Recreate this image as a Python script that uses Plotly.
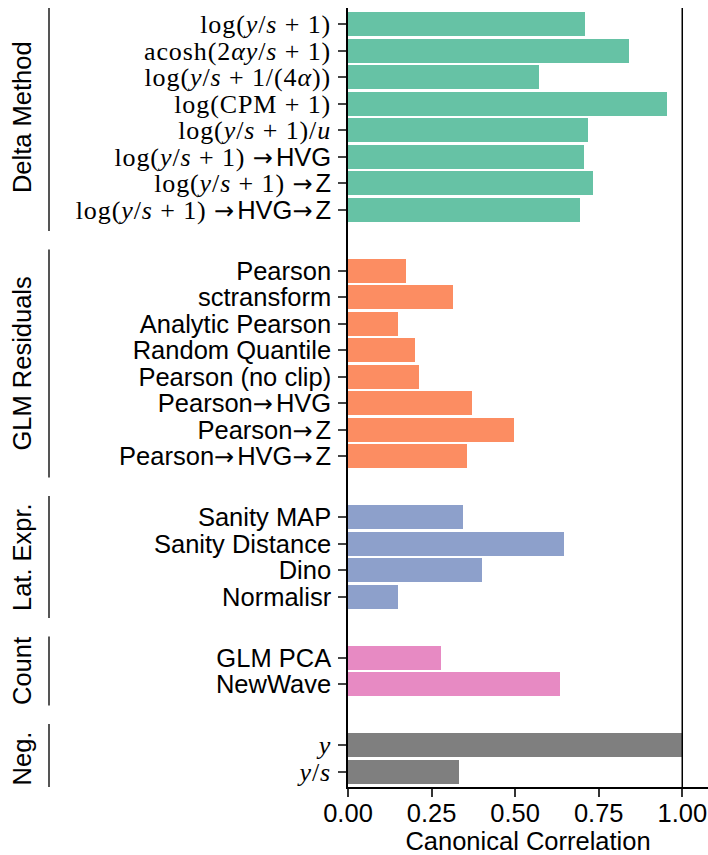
import plotly.graph_objects as go

# ---- data -------------------------------------------------------------
SERIF = '<span style="font-family:Liberation Serif;font-size:26px;letter-spacing:0.9px">{}</span>'
ARROW = '<span style="font-family:DejaVu Sans;font-size:24px;letter-spacing:3px">→</span>'

delta_labels = [
    SERIF.format("log(<i>y</i>/<i>s</i> + 1)"),
    SERIF.format("acosh(2<i>αy</i>/<i>s</i> + 1)"),
    SERIF.format("log(<i>y</i>/<i>s</i> + 1/(4<i>α</i>))"),
    SERIF.format("log(CPM + 1)"),
    SERIF.format("log(<i>y</i>/<i>s</i> + 1)/<i>u</i>"),
    SERIF.format("log(<i>y</i>/<i>s</i> + 1) ") + ARROW + "HVG",
    SERIF.format("log(<i>y</i>/<i>s</i> + 1) ") + ARROW + "Z",
    SERIF.format("log(<i>y</i>/<i>s</i> + 1) ") + ARROW + "HVG" + ARROW + "Z",
]
delta_vals = [0.709, 0.840, 0.571, 0.954, 0.718, 0.706, 0.733, 0.694]

glm_labels = [
    "Pearson", "sctransform", "Analytic Pearson", "Random Quantile",
    "Pearson (no clip)", "Pearson" + ARROW + "HVG", "Pearson" + ARROW + "Z",
    "Pearson" + ARROW + "HVG" + ARROW + "Z",
]
glm_vals = [0.173, 0.313, 0.149, 0.200, 0.212, 0.370, 0.496, 0.355]

lat_labels = ["Sanity MAP", "Sanity Distance", "Dino", "Normalisr"]
lat_vals = [0.343, 0.646, 0.400, 0.149]

count_labels = ["GLM PCA", "NewWave"]
count_vals = [0.277, 0.634]

neg_labels = [SERIF.format("<i>y</i>"), SERIF.format("<i>y</i>/<i>s</i>")]
neg_vals = [1.000, 0.333]

group_names = ["Delta Method", "GLM Residuals", "Lat. Expr.", "Count", "Neg."]
group_colors = ["#66c2a5", "#fc8d62", "#8da0cb", "#e78ac3", "#7f7f7f"]

x_ticks = [0.0, 0.25, 0.5, 0.75, 1.0]
x_ticktext = ["0.00", "0.25", "0.50", "0.75", "1.00"]

groups = [
    (delta_labels, delta_vals),
    (glm_labels, glm_vals),
    (lat_labels, lat_vals),
    (count_labels, count_vals),
    (neg_labels, neg_vals),
]

# ---- layout of rows: one unit per bar, wider gap between groups -------
GROUP_GAP = 2.3
fig = go.Figure()
tickvals, ticktext = [], []
spans = []
pos = 0.0
for (labels, vals), color in zip(groups, group_colors):
    ys = []
    for lab in labels:
        ys.append(pos)
        tickvals.append(pos)
        ticktext.append(lab)
        pos += 1.0
    pos += GROUP_GAP - 1.0
    spans.append((ys[0], ys[-1]))
    fig.add_trace(go.Bar(
        x=vals, y=ys, orientation="h", width=0.9,
        marker=dict(color=color, line=dict(width=0)),
        showlegend=False, hoverinfo="x",
    ))

last = tickvals[-1]

FONT = "Liberation Sans, Arial, sans-serif"
FS = 25.5

# reference line at perfect correlation
fig.add_shape(type="line", xref="x", yref="paper", x0=1, x1=1, y0=0, y1=1,
              line=dict(color="black", width=1.5), layer="above")

# group brackets and labels in the left margin
for (y0, y1), name in zip(spans, group_names):
    fig.add_shape(type="line", xref="paper", yref="y",
                  x0=-299 / 360, x1=-299 / 360, y0=y0 - 0.8, y1=y1 + 0.8,
                  line=dict(color="#555555", width=2))
    fig.add_annotation(text=name, xref="paper", yref="y", x=0, y=(y0 + y1) / 2,
                       xshift=-326, textangle=-90, showarrow=False,
                       xanchor="center", yanchor="middle",
                       font=dict(family=FONT, size=FS, color="black"))

fig.update_layout(
    width=708, height=855,
    margin=dict(l=348, r=0, t=8, b=68),
    paper_bgcolor="white", plot_bgcolor="white",
    font=dict(family=FONT, size=FS, color="black"),
    bargap=0,
)
fig.update_xaxes(
    range=[0, 1.077], tickvals=x_ticks, ticktext=x_ticktext,
    showline=True, linecolor="black", linewidth=1.5,
    ticks="outside", ticklen=8, tickwidth=1.5, tickcolor="#333333",
    showgrid=False, zeroline=False, ticklabelstandoff=-5,
    tickfont=dict(family=FONT, size=FS, color="black"),
    title=dict(text="Canonical Correlation", standoff=4,
               font=dict(family=FONT, size=FS, color="black")),
)
fig.update_yaxes(
    range=[last + 0.577, -0.615], tickvals=tickvals, ticktext=ticktext,
    showline=True, linecolor="black", linewidth=1.5,
    ticks="outside", ticklen=8, tickwidth=1.5, tickcolor="#444444",
    showgrid=False, zeroline=False, ticklabelstandoff=2,
    tickfont=dict(family=FONT, size=FS, color="black"),
)

fig.write_html("out.html")
